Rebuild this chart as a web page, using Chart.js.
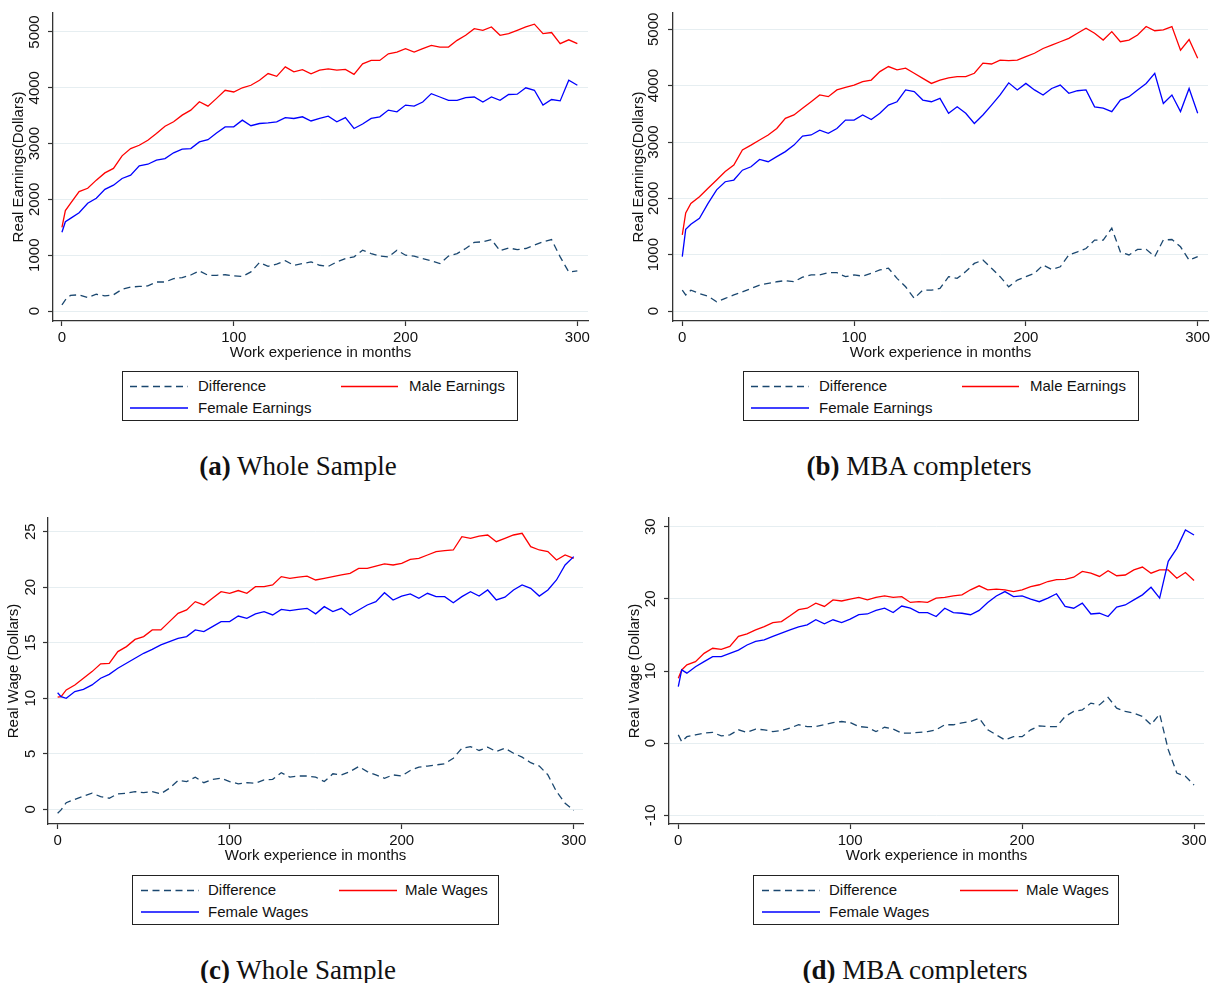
<!DOCTYPE html>
<html>
<head>
<meta charset="utf-8">
<script src="https://cdn.jsdelivr.net/npm/chart.js@4.4.1/dist/chart.umd.min.js"></script>
<style>
  body { margin: 0; background: #fff; width: 1211px; height: 983px; overflow: hidden; position: relative; font-family: "Liberation Sans", Arial, sans-serif; }
  canvas { position: absolute; }
  .legend { position: absolute; border: 1px solid #222; box-sizing: border-box; height: 50px; }
  .legend svg { position: absolute; left: 0; top: 0; }
  .legend span { position: absolute; font-size: 15px; color: #111; line-height: 18px; white-space: nowrap; }
  .cap { position: absolute; font-family: "Liberation Serif", serif; font-size: 27px; color: #111; transform: translate(-50%, -50%); white-space: nowrap; }
</style>
</head>
<body>
<canvas id="ca"></canvas>
<canvas id="cb"></canvas>
<canvas id="cc"></canvas>
<canvas id="cd"></canvas>
<div class="cap" style="left:298px;top:466px"><b>(a)</b> Whole Sample</div>
<div class="cap" style="left:919px;top:466px"><b>(b)</b> MBA completers</div>
<div class="cap" style="left:298px;top:970px"><b>(c)</b> Whole Sample</div>
<div class="cap" style="left:915px;top:970px"><b>(d)</b> MBA completers</div>
<script>
// months of work experience (common x for every series)
const months = [0, 2, 5, 10, 15, 20, 25, 30, 35, 40, 45, 50, 55, 60, 65, 70, 75, 80, 85, 90, 95, 100,
  105, 110, 115, 120, 125, 130, 135, 140, 145, 150, 155, 160, 165, 170, 175, 180, 185, 190, 195, 200,
  205, 210, 215, 220, 225, 230, 235, 240, 245, 250, 255, 260, 265, 270, 275, 280, 285, 290, 295, 300];
const xTicks = [0, 100, 200, 300];
const earnTicks = [0, 1000, 2000, 3000, 4000, 5000];
const wageTicksC = [0, 5, 10, 15, 20, 25];
const wageTicksD = [-10, 0, 10, 20, 30];

const earnLabels = ['Difference', 'Male Earnings', 'Female Earnings'];
const wageLabels = ['Difference', 'Male Wages', 'Female Wages'];

// (a) Whole sample, earnings
const aDiff = [110, 200, 280, 290, 240, 300, 270, 290, 390, 430, 440, 450, 520, 520, 580, 600, 645, 720, 640, 640, 650, 630,
  620, 700, 870, 800, 840, 900, 820, 850, 880, 820, 800, 880, 940, 970, 1090, 1030, 985, 970, 1090, 1000,
  985, 940, 900, 850, 985, 1030, 1120, 1230, 1240, 1280, 1080, 1130, 1100, 1120, 1180, 1240, 1280, 970, 700, 720];
const aMale = [1500, 1800, 1930, 2140, 2200, 2345, 2475, 2555, 2780, 2910, 2970, 3060, 3180, 3310, 3390, 3510, 3600, 3750, 3670, 3810, 3955, 3925,
  4000, 4045, 4135, 4255, 4205, 4375, 4285, 4325, 4250, 4315, 4340, 4315, 4330, 4240, 4430, 4490, 4490, 4610, 4640, 4700,
  4640, 4700, 4760, 4730, 4730, 4850, 4940, 5060, 5030, 5090, 4940, 4970, 5030, 5090, 5140, 4970, 4990, 4790, 4860, 4790];
const aFemale = [1410, 1600, 1660, 1760, 1930, 2020, 2180, 2255, 2375, 2435, 2600, 2630, 2705, 2730, 2835, 2900, 2910, 3030, 3070, 3190, 3300, 3300,
  3420, 3320, 3360, 3370, 3390, 3465, 3450, 3480, 3405, 3450, 3490, 3390, 3465, 3270, 3350, 3450, 3480, 3600, 3570, 3690,
  3670, 3745, 3895, 3835, 3775, 3775, 3825, 3835, 3745, 3835, 3775, 3880, 3885, 4000, 3955, 3690, 3790, 3765, 4135, 4045];

// (b) MBA completers, earnings
const bDiff = [370, 285, 370, 310, 265, 165, 225, 285, 340, 400, 460, 490, 520, 540, 520, 600, 640, 640, 680, 680, 610, 640,
  620, 670, 730, 760, 580, 430, 225, 370, 370, 400, 610, 580, 700, 845, 905, 760, 610, 430, 550, 610,
  670, 815, 740, 785, 995, 1050, 1110, 1260, 1260, 1470, 1050, 995, 1095, 1095, 965, 1260, 1270, 1140, 905, 965];
const bMale = [1350, 1740, 1910, 2030, 2180, 2325, 2475, 2590, 2860, 2945, 3035, 3125, 3240, 3420, 3480, 3600, 3715, 3835, 3805, 3925, 3970, 4010,
  4070, 4100, 4250, 4340, 4280, 4310, 4220, 4130, 4040, 4100, 4140, 4160, 4160, 4220, 4400, 4385, 4455, 4445, 4455, 4515,
  4575, 4660, 4720, 4780, 4840, 4930, 5020, 4930, 4810, 4960, 4780, 4810, 4900, 5050, 4975, 4990, 5050, 4630, 4820, 4485];
const bFemale = [965, 1450, 1540, 1645, 1910, 2150, 2295, 2325, 2500, 2560, 2690, 2650, 2740, 2830, 2945, 3105, 3125, 3210, 3155, 3240, 3390, 3390,
  3480, 3400, 3510, 3655, 3715, 3925, 3895, 3745, 3715, 3775, 3510, 3625, 3510, 3330, 3480, 3655, 3835, 4050, 3925, 4040,
  3925, 3835, 3950, 4010, 3865, 3910, 3925, 3625, 3600, 3540, 3745, 3805, 3925, 4040, 4220, 3685, 3835, 3540, 3950, 3510];

// (c) Whole sample, wages
const cDiff = [-0.35, -0.05, 0.6, 0.9, 1.2, 1.45, 1.15, 1.0, 1.4, 1.45, 1.6, 1.5, 1.6, 1.4, 1.9, 2.6, 2.5, 2.9, 2.4, 2.7, 2.8, 2.5,
  2.3, 2.4, 2.35, 2.65, 2.7, 3.3, 2.9, 3.0, 3.0, 2.9, 2.5, 3.2, 3.1, 3.4, 3.85, 3.4, 3.1, 2.8, 3.1, 3.0,
  3.5, 3.8, 3.9, 4.0, 4.1, 4.6, 5.5, 5.65, 5.3, 5.6, 5.2, 5.5, 5.05, 4.7, 4.2, 3.9, 3.1, 1.6, 0.55, -0.1];
const cMale = [10.1, 10.15, 10.75, 11.2, 11.8, 12.4, 13.1, 13.15, 14.2, 14.65, 15.3, 15.55, 16.15, 16.15, 16.9, 17.65, 17.95, 18.7, 18.4, 19.0, 19.6, 19.45,
  19.7, 19.45, 20.05, 20.05, 20.2, 20.95, 20.8, 20.9, 21.0, 20.65, 20.8, 20.95, 21.1, 21.25, 21.7, 21.7, 21.9, 22.1, 22.0, 22.15,
  22.5, 22.6, 22.9, 23.2, 23.3, 23.35, 24.55, 24.4, 24.6, 24.7, 24.1, 24.4, 24.7, 24.85, 23.65, 23.35, 23.2, 22.45, 22.9, 22.6];
const cFemale = [10.5, 10.15, 10.0, 10.6, 10.8, 11.2, 11.8, 12.15, 12.7, 13.15, 13.6, 14.05, 14.4, 14.8, 15.1, 15.4, 15.55, 16.15, 16.0, 16.45, 16.9, 16.9,
  17.4, 17.2, 17.6, 17.8, 17.5, 18.0, 17.9, 18.0, 18.1, 17.6, 18.25, 17.8, 18.1, 17.5, 17.95, 18.4, 18.7, 19.5, 18.85, 19.2,
  19.4, 19.0, 19.45, 19.15, 19.15, 18.6, 19.15, 19.6, 19.2, 19.75, 18.85, 19.1, 19.75, 20.2, 19.9, 19.2, 19.75, 20.65, 22.0, 22.75];

// (d) MBA completers, wages
const dDiff = [1.15, 0.2, 0.9, 1.15, 1.4, 1.5, 1.0, 1.15, 1.85, 1.5, 1.95, 1.85, 1.6, 1.75, 2.1, 2.55, 2.3, 2.3, 2.55, 2.85, 3.0, 2.85,
  2.3, 2.2, 1.6, 2.2, 1.95, 1.4, 1.4, 1.5, 1.6, 1.85, 2.55, 2.55, 2.8, 3.0, 3.45, 1.85, 1.15, 0.45, 0.9, 0.9,
  1.85, 2.4, 2.3, 2.3, 3.7, 4.4, 4.6, 5.55, 5.3, 6.35, 4.85, 4.4, 4.15, 3.7, 2.55, 4.05, -0.9, -4.15, -4.6, -5.8];
const dMale = [9.0, 10.15, 10.85, 11.3, 12.45, 13.15, 13.0, 13.4, 14.8, 15.15, 15.7, 16.15, 16.7, 16.85, 17.65, 18.5, 18.7, 19.4, 18.95, 19.85, 19.7, 19.95,
  20.2, 19.85, 20.2, 20.4, 20.2, 20.3, 19.5, 19.6, 19.5, 20.1, 20.2, 20.4, 20.55, 21.25, 21.8, 21.25, 21.35, 21.25, 21.0, 21.25,
  21.7, 21.95, 22.4, 22.65, 22.7, 23.0, 23.8, 23.55, 23.1, 23.9, 23.2, 23.3, 24.0, 24.4, 23.55, 24.0, 24.0, 22.85, 23.65, 22.55];
const dFemale = [7.85, 10.15, 9.7, 10.6, 11.3, 12.0, 12.0, 12.45, 12.9, 13.6, 14.1, 14.3, 14.8, 15.25, 15.7, 16.1, 16.4, 17.1, 16.55, 17.1, 16.7, 17.2,
  17.8, 17.9, 18.4, 18.7, 18.1, 19.0, 18.7, 18.1, 18.1, 17.55, 18.7, 18.1, 18.0, 17.8, 18.4, 19.5, 20.4, 21.0, 20.3, 20.4,
  19.95, 19.6, 20.1, 20.7, 18.95, 18.7, 19.4, 17.9, 18.0, 17.55, 18.85, 19.15, 19.85, 20.55, 21.6, 20.1, 25.2, 27.0, 29.55, 28.85];

const FONT = '"Liberation Sans", Arial, sans-serif';
const colDiff = '#1a476f', colMale = '#ff0000', colFemale = '#0000ff';
const axisCol = '#333';

const Y_W = 52, X_H = 45, PAD_T = 16, PAD_R = 8;

const panels = [
  { id: 'ca', left: 53, top: 13, right: 588, bottom: 321, xMin: -5.2, xMax: 306.2, yMin: -179, yMax: 5340,
    yTicks: earnTicks, yTitle: 'Real Earnings(Dollars)', tickPad: -3.7, series: [aDiff, aMale, aFemale], labels: earnLabels,
    leg: { left: 122, top: 371, width: 396, l1: [7, 65], l2: [218, 275], t1: 75, t2: 286 } },
  { id: 'cb', left: 673, top: 13, right: 1208, bottom: 321, xMin: -5.4, xMax: 306, yMin: -177, yMax: 5290,
    yTicks: earnTicks, yTitle: 'Real Earnings(Dollars)', tickPad: -2.7, series: [bDiff, bMale, bFemale], labels: earnLabels,
    leg: { left: 743, top: 371, width: 396, l1: [7, 65], l2: [218, 275], t1: 75, t2: 286 } },
  { id: 'cc', left: 48, top: 518, right: 583, bottom: 824, xMin: -5.6, xMax: 305.4, yMin: -1.32, yMax: 26.23,
    yTicks: wageTicksC, yTitle: 'Real Wage (Dollars)', tickPad: 4.2, series: [cDiff, cMale, cFemale], labels: wageLabels,
    leg: { left: 132, top: 875, width: 367, l1: [8, 66], l2: [206, 264], t1: 75, t2: 272 } },
  { id: 'cd', left: 669, top: 518, right: 1204, bottom: 824, xMin: -5.4, xMax: 305.8, yMin: -11.2, yMax: 31.2,
    yTicks: wageTicksD, yTitle: 'Real Wage (Dollars)', tickPad: 2.2, series: [dDiff, dMale, dFemale], labels: wageLabels,
    leg: { left: 753, top: 875, width: 366, l1: [8, 66], l2: [206, 264], t1: 75, t2: 272 } }
];

function pts(vals) {
  return months.map((m, i) => ({ x: m, y: vals[i] }));
}

function drawLegend(p) {
  const g = p.leg;
  const box = document.createElement('div');
  box.className = 'legend';
  box.style.left = g.left + 'px';
  box.style.top = g.top + 'px';
  box.style.width = g.width + 'px';
  box.innerHTML =
    `<svg width="${g.width}" height="50">
      <line x1="${g.l1[0]}" y1="14.5" x2="${g.l1[1]}" y2="14.5" stroke="${colDiff}" stroke-width="1.3" stroke-dasharray="7 4.5"/>
      <line x1="${g.l2[0]}" y1="14.5" x2="${g.l2[1]}" y2="14.5" stroke="${colMale}" stroke-width="1.3"/>
      <line x1="${g.l1[0]}" y1="36" x2="${g.l1[1]}" y2="36" stroke="${colFemale}" stroke-width="1.3"/>
    </svg>
    <span style="left:${g.t1}px;top:5px">${p.labels[0]}</span>
    <span style="left:${g.t2}px;top:5px">${p.labels[1]}</span>
    <span style="left:${g.t1}px;top:27px">${p.labels[2]}</span>`;
  document.body.appendChild(box);
}

function drawPanel(p) {
  const cv = document.getElementById(p.id);
  const w = Y_W + (p.right - p.left) + PAD_R;
  const h = PAD_T + (p.bottom - p.top) + X_H;
  cv.width = w; cv.height = h;
  cv.style.left = (p.left - Y_W) + 'px';
  cv.style.top = (p.top - PAD_T) + 'px';
  cv.style.width = w + 'px'; cv.style.height = h + 'px';

  new Chart(cv.getContext('2d'), {
    type: 'line',
    data: {
      datasets: [
        { label: p.labels[2], data: pts(p.series[2]), borderColor: colFemale, borderWidth: 1.3, order: 0 },
        { label: p.labels[1], data: pts(p.series[1]), borderColor: colMale, borderWidth: 1.3, order: 1 },
        { label: p.labels[0], data: pts(p.series[0]), borderColor: colDiff, borderWidth: 1.3, borderDash: [7, 4.5], order: 2 }
      ]
    },
    options: {
      responsive: false,
      animation: false,
      elements: { point: { radius: 0 }, line: { tension: 0 } },
      layout: { padding: { left: 0, top: PAD_T, right: PAD_R, bottom: 0 } },
      plugins: { legend: { display: false }, tooltip: { enabled: false } },
      scales: {
        x: {
          type: 'linear', min: p.xMin, max: p.xMax,
          afterBuildTicks: s => { s.ticks = xTicks.map(v => ({ value: v })); },
          afterFit: s => { s.height = X_H; },
          grid: { drawOnChartArea: false, drawTicks: true, tickLength: 5, tickColor: axisCol, tickWidth: 1.2 },
          border: { display: true, color: axisCol, width: 1.3 },
          ticks: { font: { family: FONT, size: 15 }, color: '#111', padding: 3, maxRotation: 0, autoSkip: false, callback: v => String(v) },
          title: { display: true, text: 'Work experience in months', font: { family: FONT, size: 15 }, color: '#111', padding: { top: 0, bottom: 4 } }
        },
        y: {
          type: 'linear', min: p.yMin, max: p.yMax,
          afterBuildTicks: s => { s.ticks = p.yTicks.map(v => ({ value: v })); },
          afterFit: s => { s.width = Y_W; },
          grid: { color: '#e6eef1', lineWidth: 1, tickLength: 5, tickColor: axisCol, tickWidth: 1.2 },
          border: { display: true, color: axisCol, width: 1.3 },
          ticks: { minRotation: 90, maxRotation: 90, crossAlign: 'center', padding: p.tickPad, font: { family: FONT, size: 15 }, color: '#111', autoSkip: false, callback: v => String(v) },
          title: { display: true, text: p.yTitle, font: { family: FONT, size: 15 }, color: '#111', padding: { top: 8.5, bottom: 0 } }
        }
      }
    }
  });
  drawLegend(p);
}

panels.forEach(drawPanel);
</script>
</body>
</html>
